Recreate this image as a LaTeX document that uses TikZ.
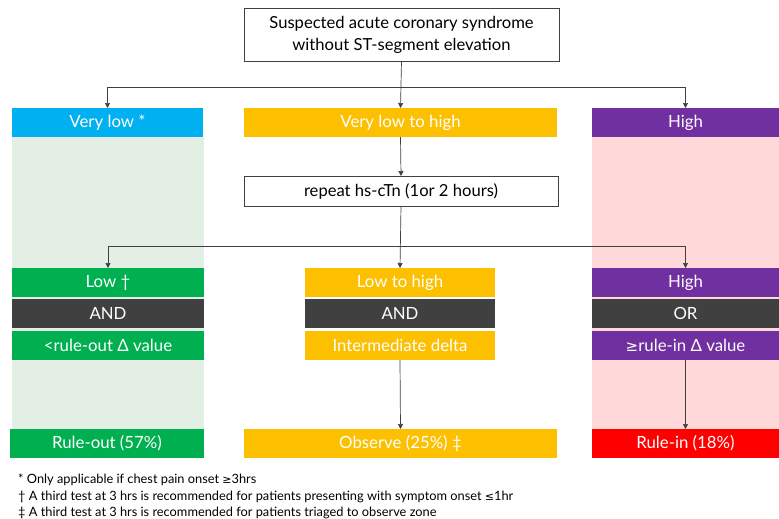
\documentclass[tikz,border=0pt]{standalone}
\usepackage{fontspec}
\setmainfont{Lato}
\newfontfamily\symf{DejaVu Sans}
\usetikzlibrary{arrows.meta}
\definecolor{ccyan}{HTML}{00B0F0}
\definecolor{cyel}{HTML}{FCC000}
\definecolor{cpur}{HTML}{7030A0}
\definecolor{cgrn}{HTML}{00B050}
\definecolor{cdark}{HTML}{404040}
\definecolor{cred}{HTML}{FF0000}
\definecolor{bggrn}{HTML}{E3EFE5}
\definecolor{bgpink}{HTML}{FFD9D9}
\definecolor{cline}{HTML}{404040}
\begin{document}
\begin{tikzpicture}[x=1pt,y=1pt,
  lab/.style={anchor=north west,inner sep=0pt,outer sep=0pt,text=white,
    font=\fontsize{16.8}{19}\selectfont,minimum height=29pt},
  wbox/.style={anchor=north west,inner sep=0pt,outer sep=0pt,draw=cline,line width=0.9pt,
    fill=white,font=\fontsize{16.6}{22}\selectfont,align=center},
  arr/.style={draw=cline,line width=0.7pt,-{Triangle[width=5pt,length=5pt]}},
  foot/.style={anchor=west,inner sep=0pt,font=\fontsize{12.8}{14}\selectfont}]
\useasboundingbox (0,0) rectangle (779,-519);
% background panels
\fill[bggrn] (12,-137) rectangle (204,-429);
\fill[bgpink] (592,-137) rectangle (779,-429);
% top
\node[wbox,minimum width=315pt,minimum height=53pt] (top) at (244,-8)
  {Suspected acute coronary syndrome\\without ST-segment elevation};
% first row
\node[lab,fill=ccyan,minimum width=191pt] (vl) at (12,-108) {Very low *};
\node[lab,fill=cyel,minimum width=313pt] (vlh) at (244,-108) {Very low to high};
\node[lab,fill=cpur,minimum width=187pt] (hi) at (592,-108) {High};
% repeat
\node[wbox,minimum width=314pt,minimum height=30pt] (rep) at (244,-176) {repeat hs-cTn (1or 2 hours)};
% second rows
\node[lab,fill=cgrn,minimum width=192pt] (low) at (12,-268) {Low †};
\node[lab,fill=cdark,minimum width=192pt] (and1) at (12,-299) {AND};
\node[lab,fill=cgrn,minimum width=192pt] (ro) at (12,-331) {<rule-out Δ value};
\node[lab,fill=cyel,minimum width=190pt] (lth) at (305,-268) {Low to high};
\node[lab,fill=cdark,minimum width=190pt] (and2) at (305,-299) {AND};
\node[lab,fill=cyel,minimum width=190pt] (inter) at (305,-331) {Intermediate delta};
\node[lab,fill=cpur,minimum width=187pt] (high2) at (592,-268) {High};
\node[lab,fill=cdark,minimum width=187pt] (or) at (592,-299) {OR};
\node[lab,fill=cpur,minimum width=187pt] (ri) at (592,-331) {{\symf\fontsize{15}{17}\selectfont ≥}rule-in Δ value};
% bottom row
\node[lab,fill=cgrn,minimum width=194pt] (rout) at (10,-429) {Rule-out (57\%)};
\node[lab,fill=cyel,minimum width=313pt] (obs) at (244,-429) {Observe (25\%) ‡};
\node[lab,fill=cred,minimum width=187pt] (rin) at (592,-429) {Rule-in (18\%)};
% connectors
\coordinate (j1) at (401,-87);
\coordinate (j2) at (401,-246);
\draw[arr] (top.south) -- (vlh.north);
\draw[arr] (j1) -| (vl.north);
\draw[arr] (j1) -| (hi.north);
\draw[arr] (vlh.south) -- (rep.north);
\draw[arr] (rep.south) -- (lth.north);
\draw[arr] (j2) -| (low.north);
\draw[arr] (j2) -| (high2.north);
\draw[arr] (inter.south) -- (obs.north);
\draw[arr] (ri.south) -- (rin.north);
% footnotes
\node[foot] (f1) at (18,-480) {* Only applicable if chest pain onset {\symf\fontsize{11}{13}\selectfont ≥}3hrs};
\node[foot] (f2) at (18,-497) {† A third test at 3 hrs is recommended for patients presenting with symptom onset {\symf\fontsize{11}{13}\selectfont ≤}1hr};
\node[foot] (f3) at (18,-513) {‡ A third test at 3 hrs is recommended for patients triaged to observe zone};
\end{tikzpicture}
\end{document}
